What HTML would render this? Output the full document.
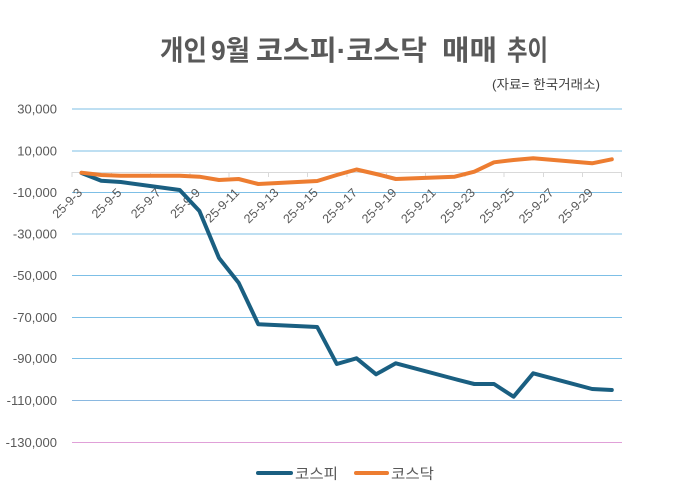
<!DOCTYPE html>
<html>
<head>
<meta charset="utf-8">
<style>
  html, body { margin:0; padding:0; background:#ffffff; }
  svg { display:block; }
  .ax { font-family:"Liberation Sans","Noto Sans CJK KR",sans-serif; fill:#595959; }
</style>
</head>
<body>
<svg width="687" height="491" viewBox="0 0 687 491" xmlns="http://www.w3.org/2000/svg">
  <rect x="0" y="0" width="687" height="491" fill="#ffffff"/>

  <!-- Title -->
  <g font-family="'Liberation Sans','Noto Sans CJK KR',sans-serif" font-weight="bold" font-size="28" fill="#595959">
    <text x="160" y="60" textLength="47" lengthAdjust="spacingAndGlyphs">개인</text>
    <text x="211" y="60" textLength="39" lengthAdjust="spacingAndGlyphs">9월</text>
    <text x="256" y="60" textLength="171" lengthAdjust="spacingAndGlyphs">코스피·코스닥</text>
    <text x="442" y="60" textLength="55" lengthAdjust="spacingAndGlyphs">매매</text>
    <text x="507" y="60" textLength="41" lengthAdjust="spacingAndGlyphs">추이</text>
  </g>
  <text x="492" y="89" font-family="'Liberation Sans','Noto Sans CJK KR',sans-serif" font-size="13" fill="#404040" textLength="108" lengthAdjust="spacingAndGlyphs">(자료= 한국거래소)</text>

  <!-- Gridlines -->
  <g stroke-width="1" shape-rendering="crispEdges">
    <line x1="72" y1="109" x2="622" y2="109" stroke="#7dbfe6"/>
    <line x1="72" y1="151" x2="622" y2="151" stroke="#7dbfe6"/>
    <line x1="72" y1="192.5" x2="622" y2="192.5" stroke="#7dbfe6"/>
    <line x1="72" y1="234" x2="622" y2="234" stroke="#7dbfe6"/>
    <line x1="72" y1="275.5" x2="622" y2="275.5" stroke="#7dbfe6"/>
    <line x1="72" y1="317.5" x2="622" y2="317.5" stroke="#7dbfe6"/>
    <line x1="72" y1="358.5" x2="622" y2="358.5" stroke="#7dbfe6"/>
    <line x1="72" y1="400.5" x2="622" y2="400.5" stroke="#8ab8e0"/>
    <line x1="72" y1="442.5" x2="622" y2="442.5" stroke="#e0a0d8"/>
  </g>

  <!-- Zero axis & ticks -->
  <g stroke="#d9d9d9" stroke-width="1" shape-rendering="crispEdges">
    <line x1="72" y1="172.5" x2="622" y2="172.5"/>
    <line x1="72" y1="172" x2="72" y2="177"/>
    <line x1="111.3" y1="172" x2="111.3" y2="177"/>
    <line x1="150.6" y1="172" x2="150.6" y2="177"/>
    <line x1="189.9" y1="172" x2="189.9" y2="177"/>
    <line x1="229.1" y1="172" x2="229.1" y2="177"/>
    <line x1="268.4" y1="172" x2="268.4" y2="177"/>
    <line x1="307.7" y1="172" x2="307.7" y2="177"/>
    <line x1="347" y1="172" x2="347" y2="177"/>
    <line x1="386.3" y1="172" x2="386.3" y2="177"/>
    <line x1="425.6" y1="172" x2="425.6" y2="177"/>
    <line x1="464.8" y1="172" x2="464.8" y2="177"/>
    <line x1="504.1" y1="172" x2="504.1" y2="177"/>
    <line x1="543.4" y1="172" x2="543.4" y2="177"/>
    <line x1="582.7" y1="172" x2="582.7" y2="177"/>
    <line x1="621.7" y1="172" x2="621.7" y2="177"/>
  </g>

  <!-- Y-axis labels -->
  <g class="ax" font-size="13" text-anchor="end">
    <text x="57" y="113.5">30,000</text>
    <text x="57" y="155.5">10,000</text>
    <text x="57" y="197">-10,000</text>
    <text x="57" y="238.5">-30,000</text>
    <text x="57" y="280">-50,000</text>
    <text x="57" y="322">-70,000</text>
    <text x="57" y="363">-90,000</text>
    <text x="57" y="405">-110,000</text>
    <text x="57" y="447">-130,000</text>
  </g>

  <!-- X-axis labels (rotated -45) -->
  <g class="ax" font-size="12.5" text-anchor="end">
    <text x="83" y="193.5" transform="rotate(-45 83 193.5)">25-9-3</text>
    <text x="122.3" y="193.5" transform="rotate(-45 122.3 193.5)">25-9-5</text>
    <text x="161.6" y="193.5" transform="rotate(-45 161.6 193.5)">25-9-7</text>
    <text x="200.9" y="193.5" transform="rotate(-45 200.9 193.5)">25-9-9</text>
    <text x="240.1" y="193.5" transform="rotate(-45 240.1 193.5)">25-9-11</text>
    <text x="279.4" y="193.5" transform="rotate(-45 279.4 193.5)">25-9-13</text>
    <text x="318.7" y="193.5" transform="rotate(-45 318.7 193.5)">25-9-15</text>
    <text x="358" y="193.5" transform="rotate(-45 358 193.5)">25-9-17</text>
    <text x="397.3" y="193.5" transform="rotate(-45 397.3 193.5)">25-9-19</text>
    <text x="436.6" y="193.5" transform="rotate(-45 436.6 193.5)">25-9-21</text>
    <text x="475.8" y="193.5" transform="rotate(-45 475.8 193.5)">25-9-23</text>
    <text x="515.1" y="193.5" transform="rotate(-45 515.1 193.5)">25-9-25</text>
    <text x="554.4" y="193.5" transform="rotate(-45 554.4 193.5)">25-9-27</text>
    <text x="593.7" y="193.5" transform="rotate(-45 593.7 193.5)">25-9-29</text>
  </g>

  <!-- KOSPI series (blue) -->
  <polyline fill="none" stroke="#1a5f81" stroke-width="4" stroke-linejoin="round" stroke-linecap="round"
    points="81.5,173 101.2,180.7 120.8,182 179.7,190 199.4,211 219,258 238.6,282.7 258.3,324.3 317.2,327 336.8,364 356.5,358.3 376.1,374.3 395.8,363.3 454.7,379 474.3,384 494,384 513.6,396.7 533.2,373.3 592.1,389 611.8,390"/>

  <!-- KOSDAQ series (orange) -->
  <polyline fill="none" stroke="#ed7d31" stroke-width="4" stroke-linejoin="round" stroke-linecap="round"
    points="81.5,172.7 101.2,175 120.8,175.7 179.7,175.7 199.4,176.7 219,180 238.6,179 258.3,184 317.2,181 336.8,175 356.5,169.5 376.1,174 395.8,179 454.7,176.7 474.3,171.7 494,162.3 513.6,160 533.2,158.3 592.1,163.3 611.8,159.3"/>

  <!-- Legend -->
  <line x1="258" y1="473" x2="291" y2="473" stroke="#1a5f81" stroke-width="4" stroke-linecap="round"/>
  <text x="295" y="479" font-family="'Liberation Sans','Noto Sans CJK KR',sans-serif" font-size="14.5" fill="#595959" textLength="43" lengthAdjust="spacingAndGlyphs">코스피</text>
  <line x1="356" y1="473" x2="387" y2="473" stroke="#ed7d31" stroke-width="4" stroke-linecap="round"/>
  <text x="391" y="479" font-family="'Liberation Sans','Noto Sans CJK KR',sans-serif" font-size="14.5" fill="#595959" textLength="43" lengthAdjust="spacingAndGlyphs">코스닥</text>
</svg>
</body>
</html>
